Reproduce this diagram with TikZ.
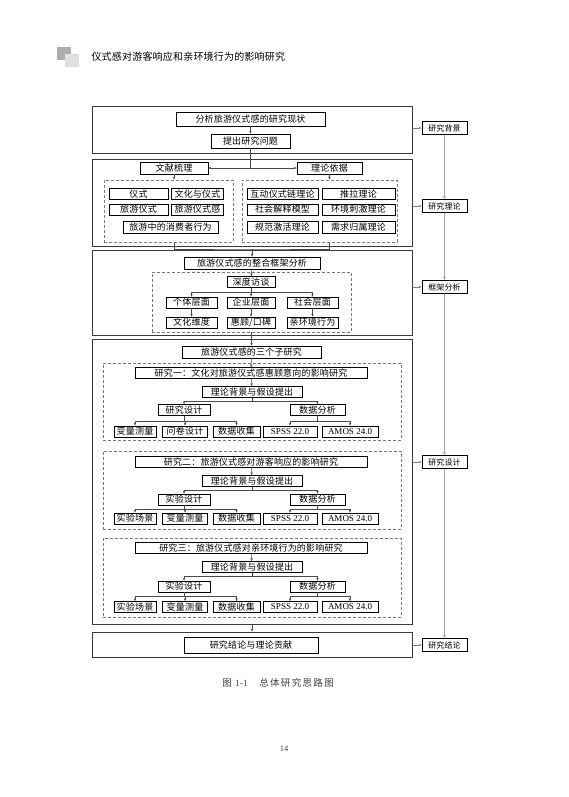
\documentclass[tikz,border=0pt]{standalone}
\usepackage{fontspec}
\setmainfont{Noto Sans CJK SC}[LetterSpace=2]
\newfontfamily\latinfont{Liberation Serif}
\usetikzlibrary{arrows.meta}
\definecolor{secline}{HTML}{3A3A3A}
\definecolor{dashline}{HTML}{7A7A7A}
\definecolor{arrline}{HTML}{4A4A4A}
\definecolor{sideline}{HTML}{A8A8A8}

\begin{document}
\begin{tikzpicture}[
  x=1pt, y=-1pt,
  sec/.style={draw=secline, line width=1pt, minimum width=320pt, inner sep=0pt},
  box/.style={draw=black, line width=0.6pt, inner sep=0pt, minimum height=11pt,
              font=\fontsize{9}{10}\selectfont},
  grp/.style={draw=dashline, line width=0.7pt, dash pattern=on 3pt off 2pt, inner sep=0pt},
  arrow/.style={-{Stealth[length=3pt,width=2.4pt]}, line width=0.5pt, color=arrline},
  link/.style={line width=0.5pt, color=arrline},
  side/.style={-{Stealth[length=3.5pt,width=3pt]}, line width=1.4pt, color=sideline},
  tag/.style={draw=black, line width=0.6pt, minimum width=45pt, minimum height=13pt,
              inner sep=0pt, font=\fontsize{8}{9}\selectfont},
]
  \fill[white] (0,0) rectangle (568,797);
  \useasboundingbox (0,0) rectangle (568,797);

  \fill[black!32] (57,47) rectangle (71,60);
  \fill[black!12] (65,54) rectangle (79,67);
  \node[anchor=west, font=\fontsize{10}{12}\selectfont] (head) at (88,57)
    {仪式感对游客响应和亲环境行为的影响研究};

  \node[sec, minimum height=46pt]  (sec1) at (252,130)   {};
  \node[sec, minimum height=87pt]  (sec2) at (252,202.5) {};
  \node[sec, minimum height=85pt]  (sec3) at (252,292.5) {};
  \node[sec, minimum height=285pt] (sec4) at (252,481.5) {};
  \node[sec, minimum height=25pt]  (sec5) at (252,644.5) {};

  \node[box, minimum width=149pt, minimum height=14pt] (stat) at (250.5,119) {分析旅游仪式感的研究现状};
  \node[box, minimum width=79pt, minimum height=14pt]  (ques) at (250.5,141) {提出研究问题};

  \node[box, minimum width=68pt, minimum height=12pt] (lit)  at (174,168)   {文献梳理};
  \node[box, minimum width=65pt, minimum height=12pt] (theo) at (329.5,168) {理论依据};
  \node[grp, minimum width=129pt, minimum height=62pt] (litd)  at (168.5,211) {};
  \node[grp, minimum width=155pt, minimum height=62pt] (theod) at (319.5,211) {};

  \node[box, minimum width=59pt] (l1) at (138.5,194)   {仪式};
  \node[box, minimum width=52pt] (l2) at (197.5,194)   {文化与仪式};
  \node[box, minimum width=59pt] (l3) at (138.5,209.5) {旅游仪式};
  \node[box, minimum width=52pt] (l4) at (197.5,209.5) {旅游仪式感};
  \node[box, minimum width=95pt, minimum height=12pt] (l5) at (170.5,227) {旅游中的消费者行为};

  \node[box, minimum width=71pt] (t1) at (282.5,194)   {互动仪式链理论};
  \node[box, minimum width=73pt] (t2) at (358.5,194)   {推拉理论};
  \node[box, minimum width=71pt] (t3) at (282.5,209.5) {社会解释模型};
  \node[box, minimum width=73pt] (t4) at (358.5,209.5) {环境刺激理论};
  \node[box, minimum width=71pt, minimum height=12pt] (t5) at (282.5,227) {规范激活理论};
  \node[box, minimum width=73pt, minimum height=12pt] (t6) at (358.5,227) {需求归属理论};

  \node[box, minimum width=136pt, minimum height=12pt] (frame) at (252,263) {旅游仪式感的整合框架分析};
  \node[grp, minimum width=199pt, minimum height=60pt] (framed) at (251.5,302) {};
  \node[box, minimum width=48pt] (deep) at (251,282)     {深度访谈};
  \node[box, minimum width=51pt] (ind)  at (191.5,302.5) {个体层面};
  \node[box, minimum width=48pt] (ent)  at (251,302.5)   {企业层面};
  \node[box, minimum width=51pt] (soc)  at (312.5,302.5) {社会层面};
  \node[box, minimum width=51pt] (cul)  at (191.5,322.5) {文化维度};
  \node[box, minimum width=48pt] (pat)  at (251,322.5)   {惠顾/口碑};
  \node[box, minimum width=51pt] (pro)  at (312.5,322.5) {亲环境行为};

  \node[box, minimum width=139pt, minimum height=12pt] (three) at (251.5,352) {旅游仪式感的三个子研究};

  \node[grp, minimum width=298pt, minimum height=77pt] (s1g) at (252,401.5) {};
  \node[box, minimum width=232pt] (s1t)  at (251,373)    {研究一：文化对旅游仪式感惠顾意向的影响研究};
  \node[box, minimum width=100pt] (s1b)  at (252,392)    {理论背景与假设提出};
  \node[box, minimum width=52pt]  (s1d)  at (184,410)    {研究设计};
  \node[box, minimum width=55pt]  (s1a)  at (317.5,410)  {数据分析};
  \node[box, minimum width=42pt]  (s1r1) at (135,431.5)  {变量测量};
  \node[box, minimum width=45pt]  (s1r2) at (185,431.5)  {问卷设计};
  \node[box, minimum width=47pt]  (s1r3) at (236.5,431.5) {数据收集};
  \node[box, minimum width=54pt]  (s1r4) at (290,431.5)  {\latinfont SPSS 22.0};
  \node[box, minimum width=56pt]  (s1r5) at (350,431.5)  {\latinfont AMOS 24.0};

  \node[grp, minimum width=298pt, minimum height=78pt] (s2g) at (252,490) {};
  \node[box, minimum width=232pt] (s2t)  at (251,462)    {研究二：旅游仪式感对游客响应的影响研究};
  \node[box, minimum width=100pt] (s2b)  at (252,481)    {理论背景与假设提出};
  \node[box, minimum width=52pt]  (s2d)  at (184,499.5)  {实验设计};
  \node[box, minimum width=55pt]  (s2a)  at (317.5,499.5) {数据分析};
  \node[box, minimum width=42pt]  (s2r1) at (135,518.5)  {实验场景};
  \node[box, minimum width=45pt]  (s2r2) at (185,518.5)  {变量测量};
  \node[box, minimum width=47pt]  (s2r3) at (236.5,518.5) {数据收集};
  \node[box, minimum width=54pt]  (s2r4) at (290,518.5)  {\latinfont SPSS 22.0};
  \node[box, minimum width=56pt]  (s2r5) at (350,518.5)  {\latinfont AMOS 24.0};

  \node[grp, minimum width=298pt, minimum height=79pt] (s3g) at (252,577.5) {};
  \node[box, minimum width=232pt] (s3t)  at (251,548)    {研究三：旅游仪式感对亲环境行为的影响研究};
  \node[box, minimum width=100pt] (s3b)  at (252,567)    {理论背景与假设提出};
  \node[box, minimum width=52pt]  (s3d)  at (184,586.5)  {实验设计};
  \node[box, minimum width=55pt]  (s3a)  at (317.5,586.5) {数据分析};
  \node[box, minimum width=42pt]  (s3r1) at (135,607)    {实验场景};
  \node[box, minimum width=45pt]  (s3r2) at (185,607)    {变量测量};
  \node[box, minimum width=47pt]  (s3r3) at (236.5,607)  {数据收集};
  \node[box, minimum width=54pt]  (s3r4) at (290,607)    {\latinfont SPSS 22.0};
  \node[box, minimum width=56pt]  (s3r5) at (350,607)    {\latinfont AMOS 24.0};

  \node[box, minimum width=134pt, minimum height=16pt] (concl) at (251,645) {研究结论与理论贡献};

  \node[tag] (bg) at (444.5,128) {研究背景};
  \node[tag] (th) at (444.5,206) {研究理论};
  \node[tag] (fa) at (444.5,287) {框架分析};
  \node[tag] (de) at (444.5,462) {研究设计};
  \node[tag] (co) at (444.5,645) {研究结论};

  \node[font=\fontsize{9.5}{11}\selectfont\addfontfeature{LetterSpace=14}, color=black!75] (cap) at (278,683)
    {图 {\latinfont 1-1}\hspace{1.2em}总体研究思路图};
  \node[font=\fontsize{8.5}{10}\selectfont\latinfont, color=black!70] (pg) at (284,749) {14};

  \draw[arrow] (stat) -- (ques);
  \draw[arrow] (ques.south) |- (lit.east);
  \draw[arrow] (ques.south) |- (theo.west);
  \draw[arrow] (lit) -- (lit |- litd.north);
  \draw[arrow] (theo) -- (theo |- theod.north);
  \coordinate (jn2) at (252,249);
  \draw[link] (lit |- litd.south) |- (jn2) -| (theo |- theod.south);
  \draw[arrow] (jn2) -- (jn2 |- frame.north);

  \draw[arrow] (frame) -- (deep);
  \coordinate (jn3) at (251,292);
  \draw[link] (deep) -- (jn3);
  \draw[arrow] (jn3) -| (ind);
  \draw[arrow] (jn3) -- (ent);
  \draw[arrow] (jn3) -| (soc);
  \draw[arrow] (ind) -- (cul);
  \draw[arrow] (ent) -- (pat);
  \draw[arrow] (soc) -- (pro);
  \draw[arrow] (framed) -- (three);

  \draw[arrow] (three) -- (s1t);
  \draw[arrow] (s1t) -- (s1b);
  \coordinate (s1j) at (252,401);
  \draw[link] (s1b) -- (s1j);
  \draw[arrow] (s1j) -| (s1d);
  \draw[arrow] (s1j) -| (s1a);
  \coordinate (s1k) at (184,421);
  \draw[link] (s1d) -- (s1k);
  \draw[arrow] (s1k) -| (s1r1);
  \draw[arrow] (s1k) -| (s1r2);
  \draw[arrow] (s1k) -| (s1r3);
  \coordinate (s1m) at (317.5,421);
  \draw[link] (s1a) -- (s1m);
  \draw[arrow] (s1m) -| (s1r4);
  \draw[arrow] (s1m) -| (s1r5);

  \draw[arrow] (s2t) -- (s2b);
  \coordinate (s2j) at (252,490);
  \draw[link] (s2b) -- (s2j);
  \draw[arrow] (s2j) -| (s2d);
  \draw[arrow] (s2j) -| (s2a);
  \coordinate (s2k) at (184,509);
  \draw[link] (s2d) -- (s2k);
  \draw[arrow] (s2k) -| (s2r1);
  \draw[arrow] (s2k) -| (s2r2);
  \draw[arrow] (s2k) -| (s2r3);
  \coordinate (s2m) at (317.5,509);
  \draw[link] (s2a) -- (s2m);
  \draw[arrow] (s2m) -| (s2r4);
  \draw[arrow] (s2m) -| (s2r5);

  \draw[arrow] (s3t) -- (s3b);
  \coordinate (s3j) at (252,576.5);
  \draw[link] (s3b) -- (s3j);
  \draw[arrow] (s3j) -| (s3d);
  \draw[arrow] (s3j) -| (s3a);
  \coordinate (s3k) at (184,596);
  \draw[link] (s3d) -- (s3k);
  \draw[arrow] (s3k) -| (s3r1);
  \draw[arrow] (s3k) -| (s3r2);
  \draw[arrow] (s3k) -| (s3r3);
  \coordinate (s3m) at (317.5,596);
  \draw[link] (s3a) -- (s3m);
  \draw[arrow] (s3m) -| (s3r4);
  \draw[arrow] (s3m) -| (s3r5);

  \draw[arrow] (sec4) -- (sec5);

  \draw[arrow, color=black!50] (sec1.east |- bg) -- (bg);
  \draw[arrow, color=black!50] (sec2.east |- th) -- (th);
  \draw[arrow, color=black!50] (sec3.east |- fa) -- (fa);
  \draw[arrow, color=black!50] (sec4.east |- de) -- (de);
  \draw[arrow, color=black!50] (sec5.east |- co) -- (co);
  \draw[side] (bg) -- (th);
  \draw[side] (th) -- (fa);
  \draw[side] (fa) -- (de);
  \draw[side] (de) -- (co);
\end{tikzpicture}
\end{document}
